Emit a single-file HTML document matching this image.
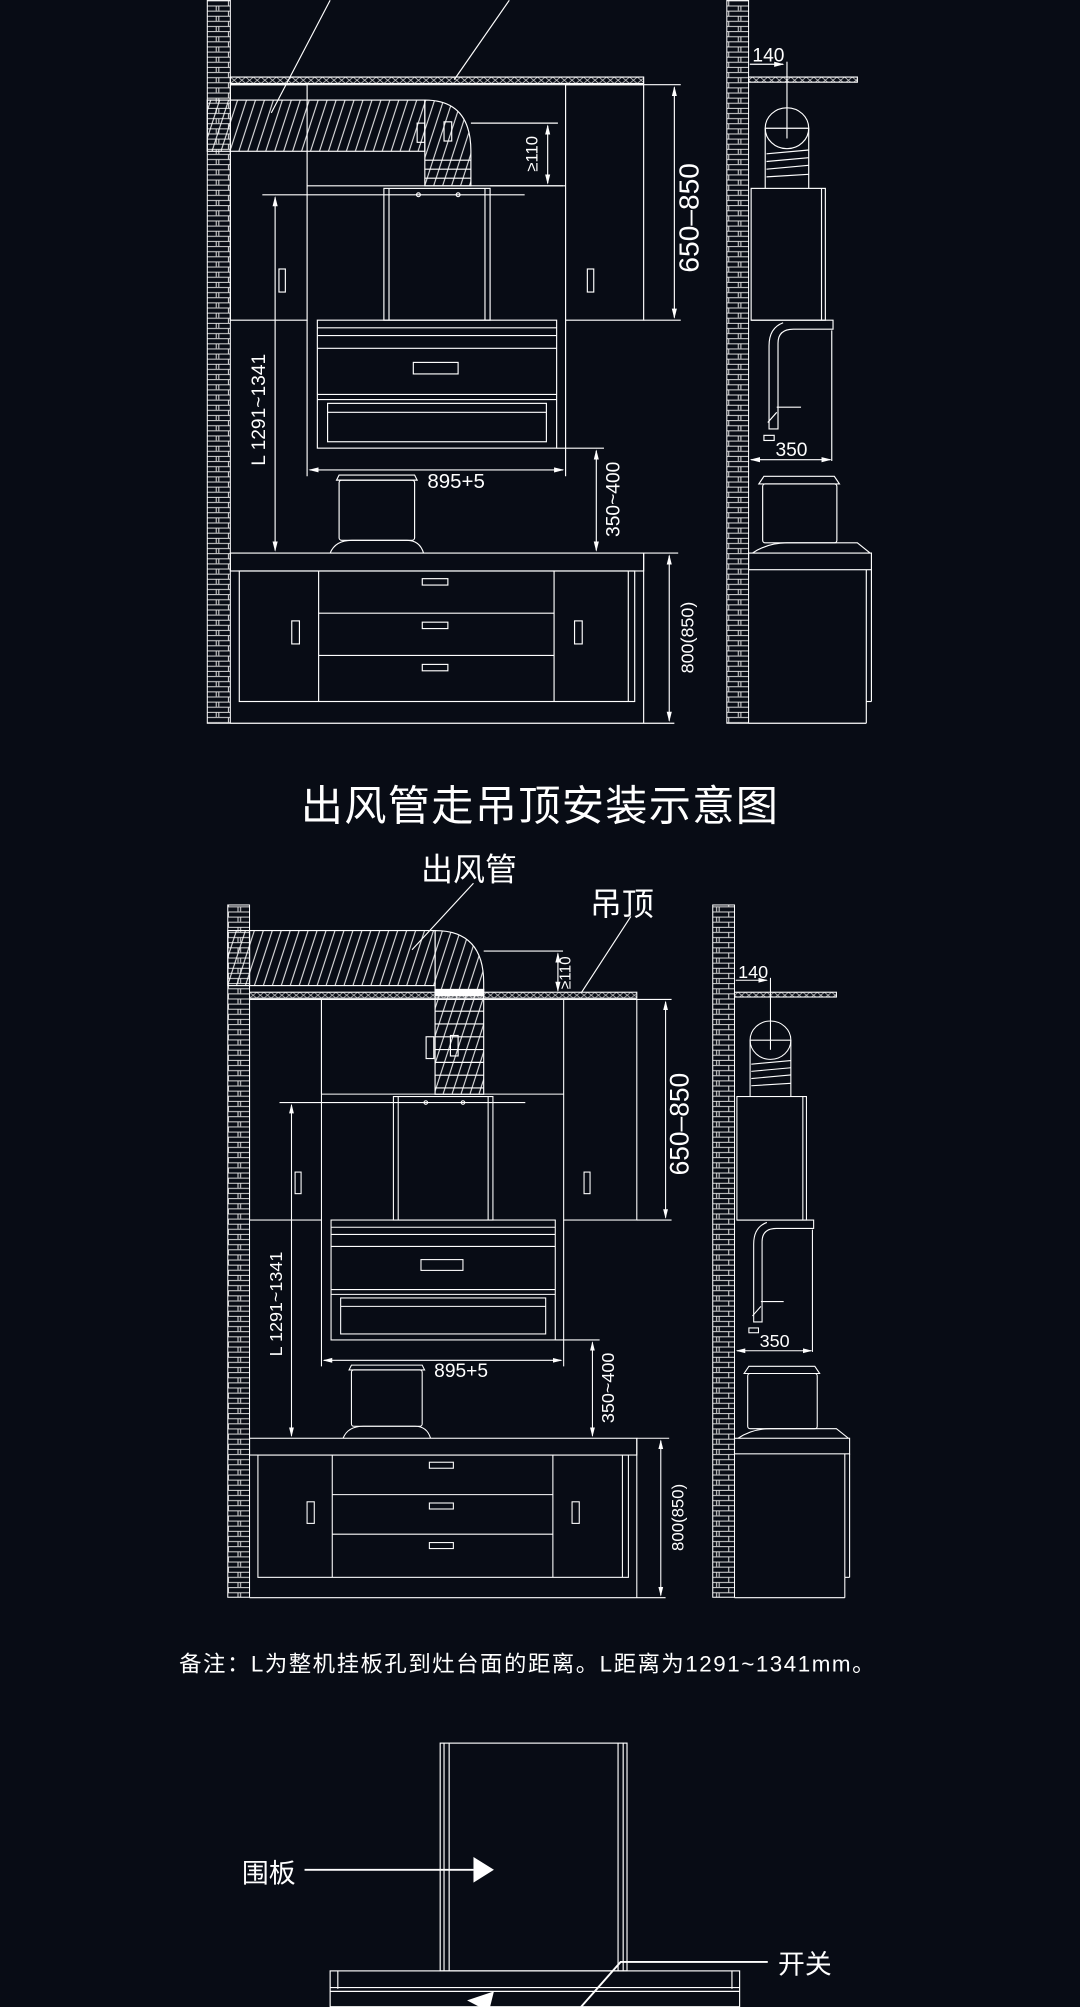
<!DOCTYPE html>
<html><head><meta charset="utf-8"><style>
html,body{margin:0;padding:0;background:#080c15;}
svg{display:block}
text{font-family:"Liberation Sans","Noto Sans CJK SC",sans-serif;fill:#fff}
</style></head><body>
<svg width="1080" height="2007" viewBox="0 0 844 1568" xmlns="http://www.w3.org/2000/svg">
<defs>
<pattern id="brick" width="17" height="8" patternUnits="userSpaceOnUse">
<rect width="17" height="8" fill="#080c15"/>
<path d="M0 0.5H17M0 4.5H17M8.5 0.5V4.5M1 4.5V8M16 4.5V8" stroke="#ddd" stroke-width="0.8" fill="none"/>
</pattern>
<pattern id="hatch" width="7" height="40" patternUnits="userSpaceOnUse" patternTransform="skewX(-18)">
<line x1="1" y1="0" x2="1" y2="40" stroke="#fff" stroke-width="0.8"/>
</pattern>
<pattern id="xx" width="6" height="5" patternUnits="userSpaceOnUse">
<path d="M0 0L6 5M6 0L0 5" stroke="#ccc" stroke-width="0.6"/>
</pattern>
<marker id="ar" markerWidth="8" markerHeight="6" refX="7" refY="3" orient="auto-start-reverse" markerUnits="userSpaceOnUse"><path d="M0 1L8 3L0 5z" fill="#fff"/></marker>

<g id="E" fill="none" stroke="#fff" stroke-width="0.9">
<rect x="180" y="60" width="323" height="5" fill="url(#xx)"/>
<line x1="180" y1="66" x2="503" y2="66"/>
<rect x="180" y="66" width="60" height="184"/>
<rect x="442" y="66" width="61" height="184"/>
<line x1="240" y1="145" x2="442" y2="145"/>
<rect x="218" y="210" width="5" height="18"/>
<rect x="459" y="210" width="5" height="18"/>
<rect x="300" y="147" width="83" height="103"/>
<line x1="304" y1="147" x2="304" y2="250"/><line x1="379" y1="147" x2="379" y2="250"/>
<line x1="300" y1="152" x2="410" y2="152"/>
<circle cx="327" cy="152" r="1.5"/><circle cx="358" cy="152" r="1.5"/>
<rect x="248" y="250" width="187" height="100"/>
<line x1="248" y1="256" x2="435" y2="256"/><line x1="248" y1="262" x2="435" y2="262"/>
<line x1="248" y1="272" x2="435" y2="272"/>
<line x1="248" y1="308" x2="435" y2="308"/><line x1="248" y1="312" x2="435" y2="312"/>
<line x1="256" y1="322" x2="427" y2="322"/>
<rect x="256" y="315" width="171" height="30"/>
<rect x="323" y="283" width="35" height="9"/>
<line x1="205" y1="152" x2="300" y2="152"/>
<line x1="215" y1="154" x2="215" y2="430" marker-start="url(#ar)" marker-end="url(#ar)"/>
<line x1="503" y1="66" x2="532" y2="66"/><line x1="503" y1="250" x2="532" y2="250"/>
<line x1="527" y1="68" x2="527" y2="248" marker-start="url(#ar)" marker-end="url(#ar)"/>
<line x1="240" y1="250" x2="240" y2="372"/><line x1="442" y1="250" x2="442" y2="372"/>
<line x1="242" y1="367" x2="440" y2="367" marker-start="url(#ar)" marker-end="url(#ar)"/>
<line x1="435" y1="350" x2="472" y2="350"/>
<line x1="466" y1="352" x2="466" y2="430" marker-start="url(#ar)" marker-end="url(#ar)"/>
<path d="M263 375H326L324 371H265Z"/>
<rect x="265" y="375" width="59" height="47" rx="2"/>
<path d="M258 432Q262 422 275 422H318Q328 422 331 432"/>
<rect x="180" y="432" width="323" height="14"/>
<rect x="187" y="446" width="309" height="102"/>
<line x1="249" y1="446" x2="249" y2="548"/><line x1="433" y1="446" x2="433" y2="548"/>
<line x1="249" y1="479" x2="433" y2="479"/><line x1="249" y1="512" x2="433" y2="512"/>
<line x1="491" y1="446" x2="491" y2="548"/>
<rect x="330" y="452" width="20" height="5"/><rect x="330" y="486" width="20" height="5"/><rect x="330" y="519" width="20" height="5"/>
<rect x="228" y="485" width="6" height="18"/><rect x="449" y="485" width="6" height="18"/>
<line x1="180" y1="565" x2="527" y2="565"/><line x1="503" y1="432" x2="503" y2="565"/>
<line x1="503" y1="432" x2="530" y2="432"/>
<line x1="523" y1="434" x2="523" y2="563" marker-start="url(#ar)" marker-end="url(#ar)"/>
</g>
<g id="ET">
<text x="546" y="170" font-size="22" transform="rotate(-90 546 170)" text-anchor="middle">650–850</text>
<text x="207" y="320" font-size="15" transform="rotate(-90 207 320)" text-anchor="middle">L  1291~1341</text>
<text x="334" y="381" font-size="16">895+5</text>
<text x="484" y="390" font-size="15" transform="rotate(-90 484 390)" text-anchor="middle">350~400</text>
<text x="542" y="498" font-size="14" transform="rotate(-90 542 498)" text-anchor="middle">800(850)</text>
</g>

<g id="S" fill="none" stroke="#fff" stroke-width="0.9">
<rect x="585" y="60" width="85" height="4" fill="url(#xx)"/>
<line x1="586" y1="50" x2="612" y2="50" marker-end="url(#ar)"/>
<line x1="615" y1="48" x2="615" y2="108"/>
<ellipse cx="615" cy="100" rx="17" ry="16"/><line x1="598" y1="100" x2="632" y2="100"/>
<line x1="598" y1="100" x2="598" y2="147"/><line x1="632" y1="100" x2="632" y2="147"/>
<path d="M599 120L632 117M599 126L632 123M599 132L632 129M599 138L632 136"/>
<rect x="587" y="147" width="58" height="103"/><line x1="642" y1="147" x2="642" y2="250"/>
<path d="M587 250H651V257H620Q608 257 608 268V335H601V270Q601 256 612 252"/>
<path d="M607 318H626M607 322L600 330"/>
<line x1="650" y1="258" x2="650" y2="360"/>
<rect x="597" y="340" width="8" height="4"/>
<line x1="587" y1="359" x2="649" y2="359" marker-start="url(#ar)" marker-end="url(#ar)"/>
<path d="M593 378H656L652 372H597Z"/>
<rect x="596" y="378" width="58" height="46" rx="2"/>
<path d="M588 432Q600 424 615 424H670L680 432"/>
<rect x="585" y="432" width="96" height="13"/>
<line x1="677" y1="445" x2="677" y2="548"/><line x1="677" y1="548" x2="681" y2="548"/><line x1="681" y1="445" x2="681" y2="548"/>
<line x1="585" y1="565" x2="677" y2="565"/><line x1="677" y1="548" x2="677" y2="565"/>
</g>
<g id="ST"><text x="588" y="48" font-size="15">140</text><text x="606" y="356" font-size="15">350</text></g>
</defs>

<!-- TOP SECTION -->
<rect x="162" y="0" width="18" height="565" fill="url(#brick)" stroke="#fff" stroke-width="0.8"/>
<rect x="568" y="0" width="17" height="565" fill="url(#brick)" stroke="#fff" stroke-width="0.8"/>
<use href="#E"/><use href="#ET"/><use href="#S"/><use href="#ST"/>
<g fill="none" stroke="#fff" stroke-width="0.9">
<rect x="162" y="78" width="170" height="40" fill="url(#hatch)"/>
<path d="M332 78Q368 78 368 118V145H332V118Z" fill="url(#hatch)"/>
<path d="M332 125H368M332 132H368M332 139H368"/>
<rect x="326" y="96" width="6" height="15"/><rect x="347" y="95" width="6" height="15"/>
<line x1="258" y1="0" x2="212" y2="88"/><line x1="398" y1="0" x2="355" y2="62"/>
<line x1="368" y1="96" x2="436" y2="96"/><line x1="383" y1="145" x2="440" y2="145"/>
<line x1="428" y1="98" x2="428" y2="143" marker-start="url(#ar)" marker-end="url(#ar)"/>
</g>
<text x="420" y="120" font-size="13" transform="rotate(-90 420 120)" text-anchor="middle">≥110</text>

<text x="422" y="641" font-size="33" text-anchor="middle" letter-spacing="1">出风管走吊顶安装示意图</text>

<!-- SECOND SECTION -->
<rect x="178" y="707" width="17" height="541" fill="url(#brick)" stroke="#fff" stroke-width="0.8"/>
<rect x="557" y="707" width="17" height="541" fill="url(#brick)" stroke="#fff" stroke-width="0.8"/>
<g transform="translate(195 778) scale(0.937) translate(-180 -63)">
<use href="#E"/>
<line x1="240" y1="145" x2="240" y2="66" stroke="#fff" stroke-width="0.9"/>
<use href="#ET"/>
</g>
<g transform="translate(574 778) scale(0.937) translate(-585 -63)"><use href="#S"/><use href="#ST"/></g>
<g fill="none" stroke="#fff" stroke-width="0.9">
<rect x="195" y="727" width="145" height="43" fill="url(#hatch)"/>
<rect x="178" y="727" width="17" height="43" fill="url(#hatch)"/>
<path d="M340 727Q378 727 378 768V855H340V770Z" fill="url(#hatch)"/>
<rect x="340" y="773" width="38" height="5" fill="#fff"/>
<path d="M340 790H378M340 800H378M340 810H378M340 820H378M340 830H378M340 840H378M340 850H378"/>
<rect x="333" y="810" width="6" height="17"/><rect x="352" y="809" width="6" height="16"/>
<line x1="378" y1="743" x2="440" y2="743"/>
<line x1="436" y1="745" x2="436" y2="774" marker-start="url(#ar)" marker-end="url(#ar)"/>
<line x1="370" y1="690" x2="322" y2="742"/>
<line x1="493" y1="716" x2="454" y2="776"/>
</g>
<text x="446" y="760" font-size="12" transform="rotate(-90 446 760)" text-anchor="middle">≥110</text>
<text x="329" y="688" font-size="25">出风管</text>
<text x="461" y="715" font-size="25">吊顶</text>

<text x="140" y="1306" font-size="17.5" letter-spacing="1.2">备注：L为整机挂板孔到灶台面的距离。L距离为1291~1341mm。</text>

<!-- BOTTOM -->
<g fill="none" stroke="#fff" stroke-width="0.9">
<rect x="344" y="1362" width="146" height="178"/>
<line x1="347" y1="1362" x2="347" y2="1540"/><line x1="351" y1="1362" x2="351" y2="1540"/>
<line x1="483" y1="1362" x2="483" y2="1540"/><line x1="487" y1="1362" x2="487" y2="1540"/>
<rect x="258" y="1540" width="320" height="28"/>
<line x1="258" y1="1553" x2="578" y2="1553"/><line x1="258" y1="1556" x2="578" y2="1556"/>
<line x1="264" y1="1540" x2="264" y2="1554"/><line x1="572" y1="1540" x2="572" y2="1554"/>
<line x1="238" y1="1461" x2="370" y2="1461" stroke-width="1.5"/>
<path d="M600 1533H485L448 1575" stroke-width="1.5"/>
</g>
<path d="M370 1451L386 1461L370 1471Z" fill="#fff"/>
<path d="M365 1563L386 1556L382 1572Z" fill="#fff"/>
<text x="189" y="1471" font-size="21">围板</text>
<text x="608" y="1542" font-size="21">开关</text>
</svg>
</body></html>
